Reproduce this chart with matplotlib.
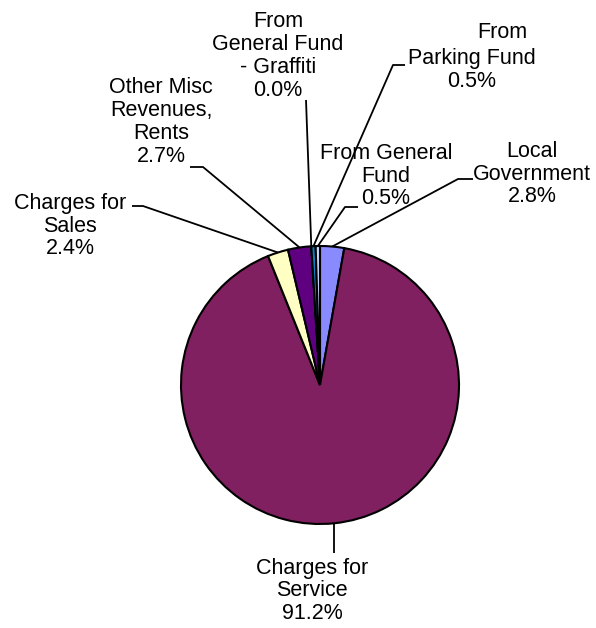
import numpy as np
import matplotlib
matplotlib.use("Agg")
import matplotlib.pyplot as plt

# ---- data ----
categories = ["Local Government", "Charges for Service", "Charges for Sales",
              "Other Misc Revenues, Rents", "From General Fund - Graffiti",
              "From Parking Fund", "From General Fund"]
values = [2.8, 91.2, 2.4, 2.7, 0.0, 0.5, 0.5]
label_texts = ["Local\nGovernment\n2.8%",
               "Charges for\nService\n91.2%",
               "Charges for\nSales\n2.4%",
               "Other Misc\nRevenues,\nRents\n2.7%",
               "From\nGeneral Fund\n- Graffiti\n0.0%",
               "From\nParking Fund\n0.5%",
               "From General\nFund\n0.5%"]
colors = ["#8A8AFF", "#802060", "#FFFFC4", "#5E0080", "#FF8080", "#0A7FC0", "#C8D8FF"]

W, H = 596, 628
plt.rcParams['font.family'] = ['Liberation Sans', 'DejaVu Sans']

fig = plt.figure(figsize=(W / 100, H / 100), dpi=100)
ax = fig.add_axes([0, 0, 1, 1])

cx, cy, R = 320, 385, 139   # pixel layout (y from top)
wedges, _ = ax.pie(values, colors=colors, startangle=90, counterclock=False,
                   center=(cx, H - cy), radius=R,
                   wedgeprops=dict(edgecolor="black", linewidth=1.5))
ax.set_xlim(0, W)
ax.set_ylim(0, H)
ax.set_aspect("equal")
ax.axis("off")

def anchor(w):
    mid = np.deg2rad((w.theta1 + w.theta2) / 2)
    return (cx + R * np.cos(mid), (H - cy) + R * np.sin(mid))

# label layout: (center x, center y in pixels from top), leader path points (pixels from top)
layout = {
    0: ((532, 174), [(473, 179), (458, 179)]),
    1: ((312, 591), [(333, 553)]),
    2: ((70, 226), [(132, 206), (143, 206)]),
    3: ((161, 122), [(190, 167), (203, 167)]),
    4: ((278, 56), [(306, 100)]),
    5: ((472, 58), [(405, 65), (393, 65)]),
    6: ((386, 176), [(358, 207), (345, 207)]),
}

fs = 15.5
for i, w in enumerate(wedges):
    (lx, ly), path = layout[i]
    txt = label_texts[i]
    if i == 5:
        lines = txt.split("\n")
        ax.text(502, H - 33, lines[0], ha="center", va="center", fontsize=fs)
        ax.text(lx, H - 70, "\n".join(lines[1:]), ha="center", va="center",
                fontsize=fs, linespacing=1.12)
    else:
        ax.text(lx, H - ly, txt, ha="center", va="center", fontsize=fs,
                linespacing=1.12, multialignment="center")
    ax_, ay_ = anchor(w)
    xs = [p[0] for p in path] + [ax_]
    ys = [H - p[1] for p in path] + [ay_]
    if i == 1:
        xs = [ax_, ax_]
        ys = [ay_, H - path[0][1]]
    ax.plot(xs, ys, color="black", lw=1.3, solid_capstyle="butt")

fig.savefig("out.png", dpi=100)
